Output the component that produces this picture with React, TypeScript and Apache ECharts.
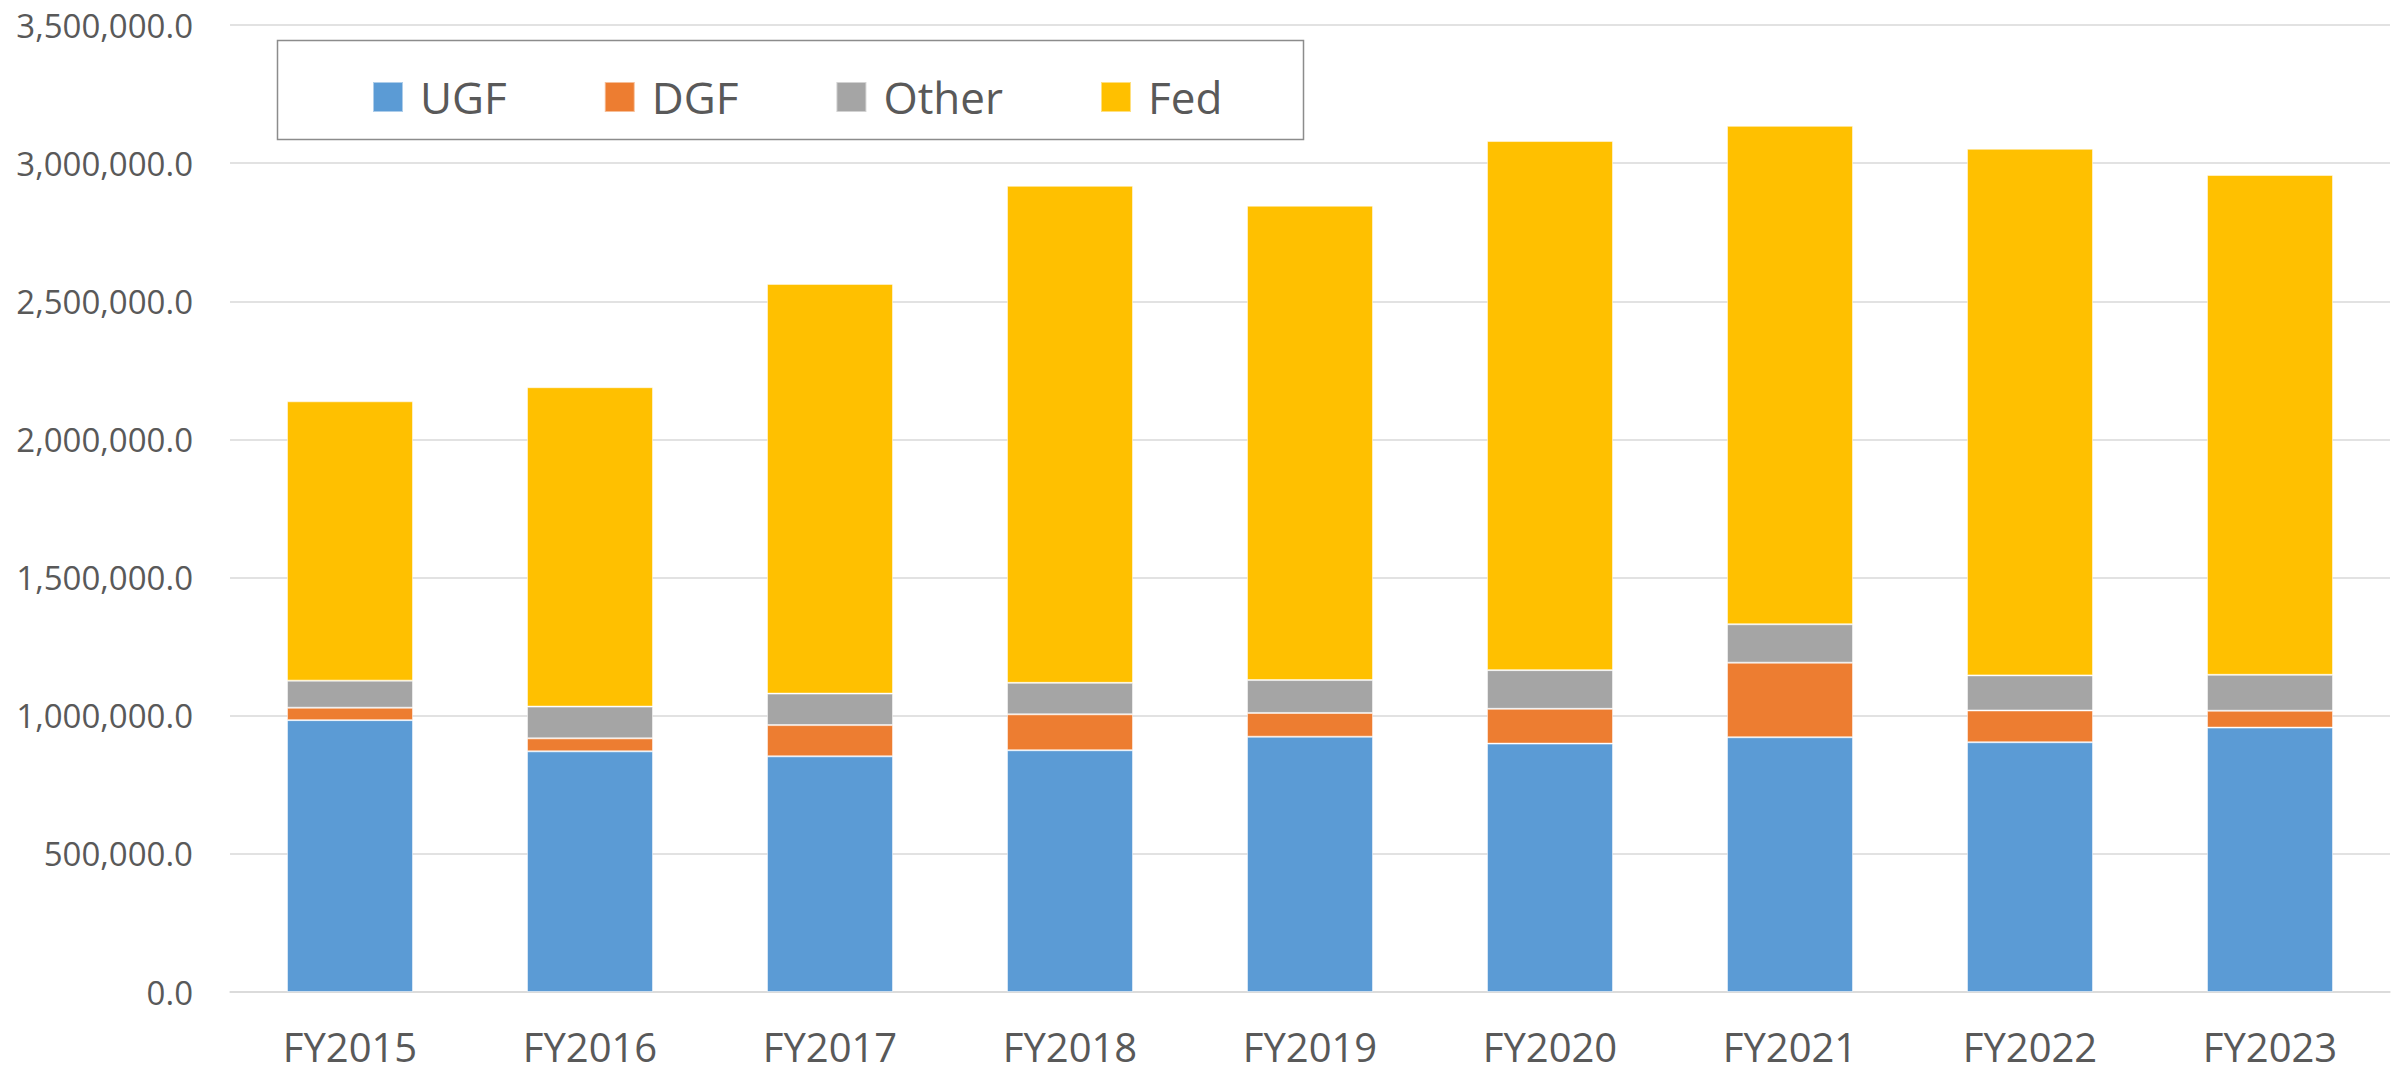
import React, { useEffect, useRef } from "react";
import * as echarts from "echarts";

const categories = ["FY2015", "FY2016", "FY2017", "FY2018", "FY2019", "FY2020", "FY2021", "FY2022", "FY2023"];
const ugf = [984000, 871000, 853000, 875000, 924000, 899000, 922000, 904000, 957000];
const dgf = [45000, 47000, 113000, 130000, 86000, 126000, 270000, 115000, 61000];
const other = [98000, 115000, 114000, 114000, 119000, 140000, 139000, 127000, 130000];
const fed = [1011000, 1156000, 1483000, 1799000, 1717000, 1915000, 1804000, 1906000, 1809000];

const seriesNames = ["UGF", "DGF", "Other", "Fed"];
const seriesColors = ["#5B9BD5", "#ED7D31", "#A5A5A5", "#FFC000"];
const seriesData = [ugf, dgf, other, fed];

const FONT = "'Open Sans', 'Noto Sans', sans-serif";
const TEXT = "#595959";

function fmt(v: number): string {
  return v.toLocaleString("en-US", { minimumFractionDigits: 1, maximumFractionDigits: 1 });
}

export default function App() {
  const ref = useRef<HTMLDivElement>(null);
  useEffect(() => {
    if (!ref.current) return;
    const chart = echarts.init(ref.current, null, { renderer: "svg" });
    chart.setOption({
      animation: false,
      backgroundColor: "#ffffff",
      grid: { left: 230, right: 15, top: 25, bottom: 82, containLabel: false },
      graphic: [
        {
          type: "rect",
          shape: { x: 277.5, y: 40.5, width: 1026, height: 99 },
          style: { fill: "#ffffff", stroke: "#8c8c8c", lineWidth: 1.5 },
          z: 5,
        },
      ],
      legend: {
        left: 372,
        top: 75,
        padding: 0,
        itemWidth: 30,
        itemHeight: 30,
        itemGap: 97,
        icon: "rect",
        z: 10,
        data: seriesNames,
        textStyle: {
          fontFamily: FONT,
          fontSize: 44,
          color: TEXT,
          lineHeight: 30,
          padding: [0, 0, 0, 12],
        },
      },
      xAxis: {
        type: "category",
        data: categories,
        axisLine: { show: true, lineStyle: { color: "#d9d9d9", width: 1.5 } },
        axisTick: { show: false },
        axisLabel: { fontFamily: FONT, fontSize: 40, color: TEXT, margin: 37, lineHeight: 34 },
      },
      yAxis: {
        type: "value",
        min: 0,
        max: 3500000,
        interval: 500000,
        axisLine: { show: false },
        axisTick: { show: false },
        splitLine: { lineStyle: { color: "#d9d9d9", width: 1.5 } },
        axisLabel: {
          fontFamily: FONT,
          fontSize: 33,
          color: TEXT,
          margin: 37,
          formatter: (v: number) => fmt(v),
        },
      },
      series: seriesNames.map((name, i) => ({
        name,
        type: "bar",
        stack: "total",
        barWidth: "52.5%",
        data: seriesData[i],
        itemStyle: {
          color: seriesColors[i],
          borderColor: "rgba(255,255,255,0.5)",
          borderWidth: 1,
        },
      })),
    });
    return () => chart.dispose();
  }, []);
  return <div ref={ref} style={{ width: 2405, height: 1074, position: "absolute", left: 0, top: 0 }} />;
}
